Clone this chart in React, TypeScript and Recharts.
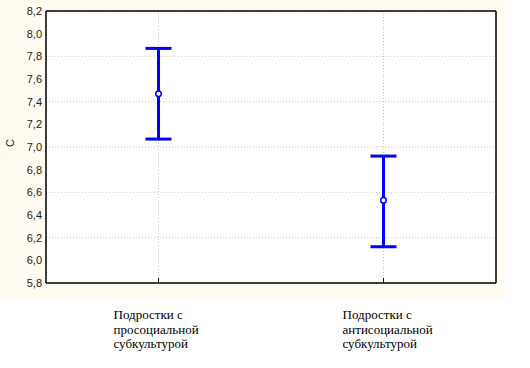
import { ComposedChart, Line, XAxis, YAxis, CartesianGrid, ErrorBar, ReferenceLine } from 'recharts';

const CATEGORIES = ['Подростки с просоциальной субкультурой', 'Подростки с антисоциальной субкультурой'];
const LABEL_LINES = [
  ['Подростки с', 'просоциальной', 'субкультурой'],
  ['Подростки с', 'антисоциальной', 'субкультурой'],
];
const MEANS = [7.47, 6.53];
const UPPER = [7.87, 6.92];
const LOWER = [7.07, 6.12];
const Y_TICKS = [5.8, 6.0, 6.2, 6.4, 6.6, 6.8, 7.0, 7.2, 7.4, 7.6, 7.8, 8.0, 8.2];

const BLUE = '#0000ff';

const data = CATEGORIES.map((name, i) => ({
  name,
  mean: MEANS[i],
  err: [MEANS[i] - LOWER[i], UPPER[i] - MEANS[i]],
}));

const fmt = (v: number) => v.toFixed(1).replace('.', ',');

const CategoryTick = ({ x, y, index }: any) => {
  const lines = LABEL_LINES[index] || [];
  const left = x + (index === 0 ? -45 : -41);
  return (
    <text x={left} y={y + 39} fill="#000" fontSize={13} fontFamily="'Liberation Serif', 'Times New Roman', serif" textAnchor="start">
      {lines.map((l, i) => (
        <tspan key={i} x={left} dy={i === 0 ? 0 : 14.5}>{l}</tspan>
      ))}
    </text>
  );
};

const MeanDot = ({ cx, cy }: any) => (
  <circle cx={cx} cy={cy} r={2.8} fill="#fff" stroke={BLUE} strokeWidth={1.5} />
);

export default function App() {
  return (
    <div style={{ position: 'absolute', left: 0, top: 0, width: 530, height: 368, background: '#fff' }}>
      <div style={{ position: 'absolute', left: 0, top: 0, width: 505, height: 300, background: '#fffbf0' }} />
      <div style={{ position: 'absolute', left: 0, top: 0 }}>
        <ComposedChart width={530} height={368} data={data} margin={{ top: 11, right: 33, left: 0, bottom: 0 }}>
          <CartesianGrid stroke="#c4c4c4" strokeDasharray="1 2" fill="#fff" />
          <XAxis
            dataKey="name"
            scale="band"
            height={85}
            axisLine={{ stroke: '#000', strokeWidth: 1.5 }}
            tickLine={{ stroke: '#000' }}
            tickSize={-5}
            tick={<CategoryTick />}
            interval={0}
          />
          <YAxis
            width={46}
            domain={[5.8, 8.2]}
            ticks={Y_TICKS}
            tickFormatter={fmt}
            axisLine={{ stroke: '#000', strokeWidth: 1.5 }}
            tickLine={false}
            tickSize={2}
            tickMargin={2}
            tick={{ fill: '#222', fontSize: 11, fontFamily: "'Liberation Sans', Arial, sans-serif" }}
            label={{ value: 'C', angle: -90, position: 'insideLeft', offset: 10, fill: '#222', fontSize: 11, fontFamily: "'Liberation Sans', Arial, sans-serif" }}
          />
          <YAxis
            yAxisId="r"
            orientation="right"
            width={1}
            domain={[5.8, 8.2]}
            ticks={Y_TICKS}
            axisLine={{ stroke: '#000', strokeWidth: 1.5 }}
            tickLine={{ stroke: '#000' }}
            tickSize={-4}
            tick={false}
          />
          <ReferenceLine y={8.2} stroke="#000" strokeWidth={1.5} />
          <Line
            dataKey="mean"
            stroke="none"
            dot={<MeanDot />}
            activeDot={false}
            isAnimationActive={false}
          >
            <ErrorBar dataKey="err" direction="y" width={13} stroke={BLUE} strokeWidth={3} isAnimationActive={false} />
          </Line>
        </ComposedChart>
      </div>
    </div>
  );
}
